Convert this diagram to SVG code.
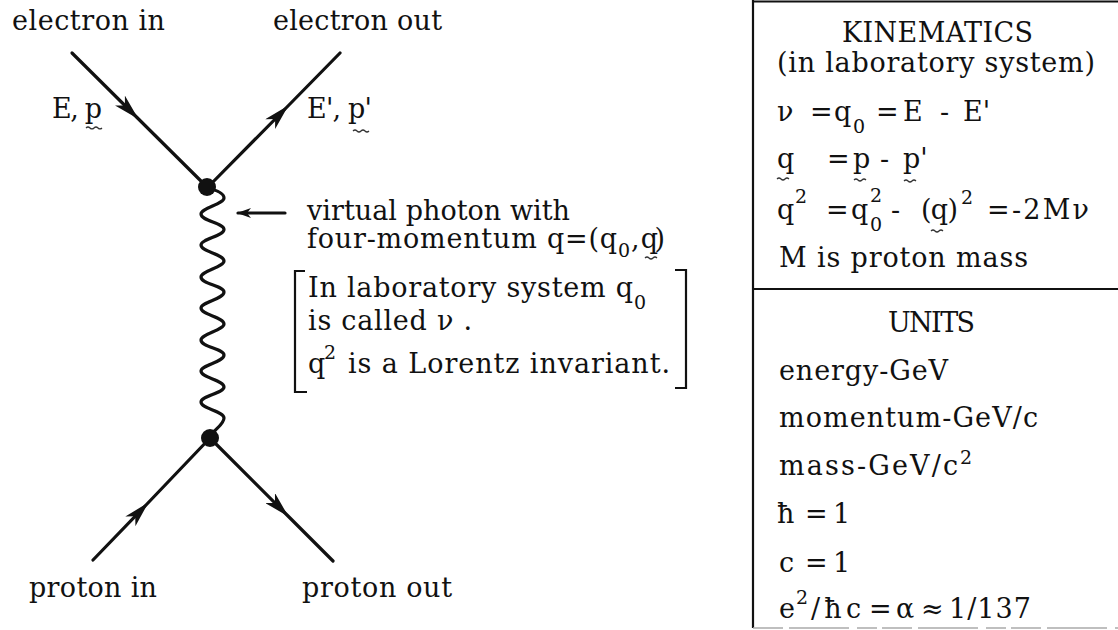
<svg xmlns="http://www.w3.org/2000/svg" width="1118" height="630" viewBox="0 0 1118 630">
<style>
.t{font-family:"DejaVu Serif","Liberation Serif",serif;font-size:27px;fill:#111}
.s{font-size:19px}
.ln{stroke:#111;stroke-width:3.2;fill:none;stroke-linecap:round;stroke-linejoin:round}
.bx{stroke:#111;stroke-width:2.2;fill:none}
.wv{stroke:#333;stroke-width:1.2;fill:none}
</style>
<defs>
<marker id="ah" markerUnits="userSpaceOnUse" viewBox="0 0 26 14" refX="24" refY="7" markerWidth="26" markerHeight="14" orient="auto">
<path d="M0,0 L26,7 L0,14 L7,7 z" fill="#111"/>
</marker>
<marker id="sh" markerUnits="userSpaceOnUse" viewBox="0 0 14 10" refX="13" refY="5" markerWidth="14" markerHeight="10" orient="auto">
<path d="M0,0 L14,5 L0,10 L4,5 z" fill="#111"/>
</marker>
</defs>
<rect width="1118" height="630" fill="#fff"/>

<g id="connectors">
<path class="ln" d="M72,53 L137,117.5 L207,187" marker-mid="url(#ah)"/>
<path class="ln" d="M207,188 L287,107 L340,53" marker-mid="url(#ah)"/>
<path class="ln" d="M93,560 L147,504 L210,438" marker-mid="url(#ah)"/>
<path class="ln" d="M210,438 L287,515 L333,561" marker-mid="url(#ah)"/>
<path id="photon" class="ln" stroke-width="3.4" d="M207,188 C216,190 224,193 224,198 C224,204 201,208 201,214 C201,221 224,223 224,229.5 C224,236 201,239 201,245 C201,252 224,254 224,261 C224,267 201,271 201,277 C201,284 224,286 224,292 C224,299 201,302 201,308 C201,315 224,317 224,324 C224,330 201,334 201,340 C201,347 224,349 224,355 C224,362 201,365 201,371 C201,378 224,380 224,387 C224,393 201,396 201,402 C201,409 224,411 224,418 C224,425 213,430 210,437"/>
<line class="ln" stroke-width="2" x1="285" y1="213" x2="238" y2="213" marker-end="url(#sh)"/>
</g>

<g id="vertex-top"><circle cx="207" cy="187" r="9" fill="#111"/></g>
<g id="vertex-bottom"><circle cx="210" cy="438" r="9" fill="#111"/></g>

<g id="electron-in">
<text class="t" x="12" y="30" textLength="153">electron in</text>
<text class="t" x="52" y="118" textLength="50">E, p</text>
<path class="wv" d="M86,128 q2,-2 4,0 t4,0 t4,0 t4,0"/>
</g>
<g id="electron-out">
<text class="t" x="273" y="30" textLength="169">electron out</text>
<text class="t" x="307" y="118" textLength="65">E', p'</text>
<path class="wv" d="M353,131 q2,-2 4,0 t4,0 t4,0 t4,0"/>
</g>
<g id="proton-in"><text class="t" x="29" y="597" textLength="128">proton in</text></g>
<g id="proton-out"><text class="t" x="302" y="597" textLength="150">proton out</text></g>

<g id="photon-label">
<text class="t" x="307" y="220" textLength="263">virtual photon with</text>
<text class="t" x="307" y="248" textLength="310">four-momentum q=(q</text>
<text class="t s" x="618" y="257">0</text>
<text class="t" x="631" y="248" textLength="34">, q)</text>
<path class="wv" d="M645,258 q2,-2 4,0 t4,0 t4,0"/>
</g>

<g id="note">
<path class="bx" d="M305,271 H295 V392 H307"/>
<path class="bx" d="M675,270 H686 V388 H675"/>
<text class="t" x="308" y="297" textLength="325">In laboratory system q</text>
<text class="t s" x="634" y="309">0</text>
<text class="t" x="308" y="330" textLength="164">is called ν .</text>
<text class="t" x="308" y="373">q</text>
<text class="t s" x="324" y="359">2</text>
<text class="t" x="348" y="373" textLength="322">is a Lorentz invariant.</text>
</g>

<g id="kinematics">
<path class="bx" d="M753,1.5 H1118 M753,0 V628 M753,289 H1118"/>
<path d="M753,628 H1118" stroke="#aaa" stroke-width="1.5" stroke-dasharray="30 6 60 8 20 5"/>
<text class="t" x="842" y="42" textLength="191">KINEMATICS</text>
<text class="t" x="777" y="72" textLength="318">(in laboratory system)</text>
<text class="t" x="777" y="121">ν</text>
<text class="t" x="810" y="121">=</text>
<text class="t" x="834" y="121">q</text>
<text class="t s" x="853" y="133">0</text>
<text class="t" x="876" y="121">=</text>
<text class="t" x="903" y="121">E</text>
<text class="t" x="940" y="121">-</text>
<text class="t" x="963" y="121">E'</text>

<text class="t" x="777" y="168">q</text>
<path class="wv" d="M777,179 q2,-2 4,0 t4,0 t4,0"/>
<text class="t" x="827" y="168">=</text>
<text class="t" x="853" y="168">p</text>
<path class="wv" d="M854,180 q2,-2 4,0 t4,0 t4,0"/>
<text class="t" x="880" y="168">-</text>
<text class="t" x="903" y="168">p'</text>
<path class="wv" d="M904,181 q2,-2 4,0 t4,0 t4,0"/>

<text class="t" x="777" y="219">q</text>
<text class="t s" x="795" y="203">2</text>
<text class="t" x="826" y="219">=</text>
<text class="t" x="851" y="219">q</text>
<text class="t s" x="870" y="202">2</text>
<text class="t s" x="870" y="231">0</text>
<text class="t" x="891" y="219">-</text>
<text class="t" x="921" y="219" textLength="37">(q)</text>
<path class="wv" d="M931,231 q2,-2 4,0 t4,0 t4,0"/>
<text class="t s" x="961" y="204">2</text>
<text class="t" x="987" y="219">=</text>
<text class="t" x="1012" y="219" textLength="77">-2Mν</text>

<text class="t" x="779" y="267" textLength="249">M is proton mass</text>
</g>

<g id="units">
<text class="t" x="888" y="332" textLength="87">UNITS</text>
<text class="t" x="779" y="380" textLength="169">energy-GeV</text>
<text class="t" x="779" y="427" textLength="259">momentum-GeV/c</text>
<text class="t" x="779" y="475" textLength="179">mass-GeV/c</text>
<text class="t s" x="960" y="464">2</text>
<text class="t" x="777" y="523">ħ</text>
<text class="t" x="805" y="523">=</text>
<text class="t" x="833" y="523">1</text>
<text class="t" x="779" y="572">c</text>
<text class="t" x="805" y="572">=</text>
<text class="t" x="833" y="572">1</text>
<text class="t" x="779" y="618">e</text>
<text class="t s" x="796" y="604">2</text>
<text class="t" x="811" y="618" textLength="50">/ħc</text>
<text class="t" x="869" y="618">=</text>
<text class="t" x="896" y="618">α</text>
<text class="t" x="921" y="618">≈</text>
<text class="t" x="949" y="618" textLength="82">1/137</text>
</g>
</svg>
